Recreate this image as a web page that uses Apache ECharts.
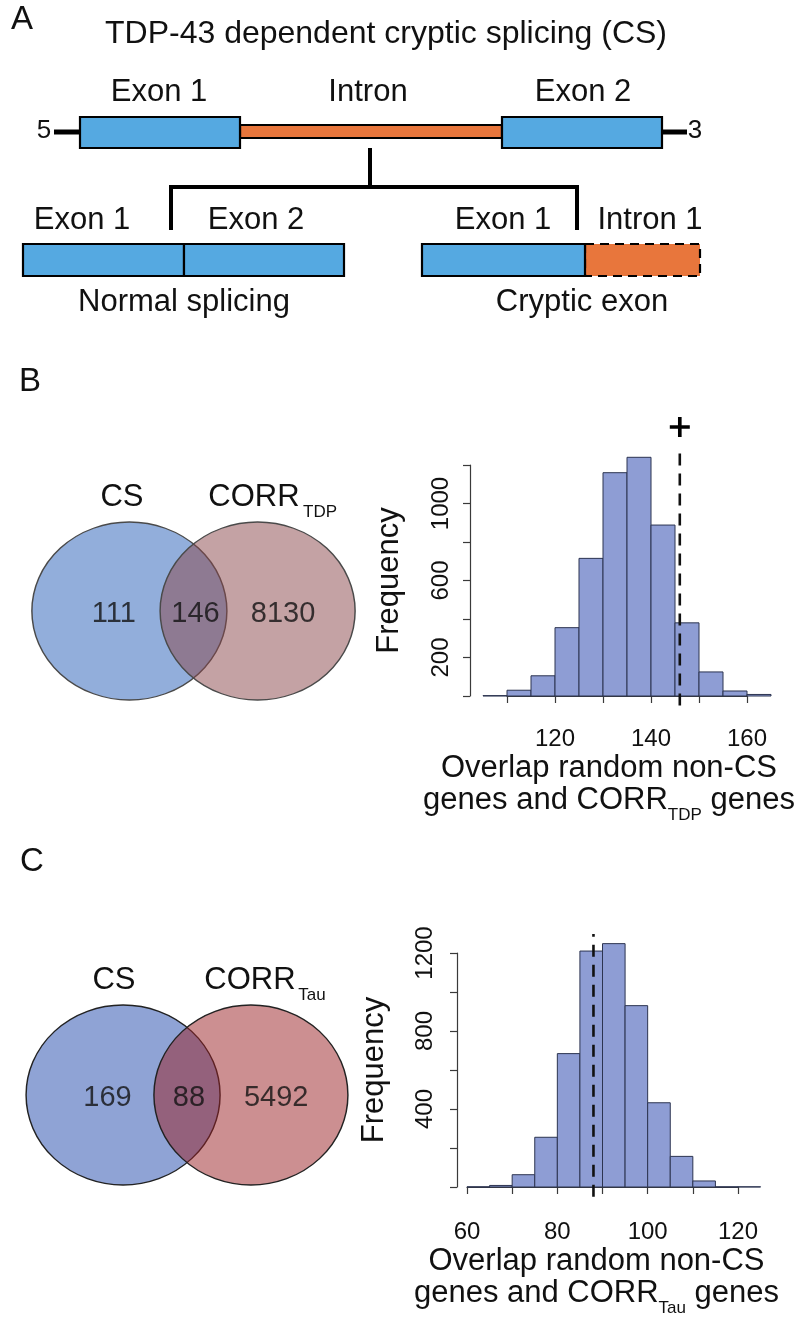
<!DOCTYPE html>
<html>
<head>
<meta charset="utf-8">
<script src="https://cdn.jsdelivr.net/npm/echarts@6/dist/echarts.min.js"></script>
<style>
html, body { margin: 0; padding: 0; background: #fff; }
#chart { width: 800px; height: 1325px; }
</style>
</head>
<body>
<div id="chart"></div>
<script>
// ---- data ----
// histogram B: lower bin edges (width 5) and counts
var binsB = [105, 110, 115, 120, 125, 130, 135, 140, 145, 150, 155, 160];
var countsB = [2, 30, 105, 355, 715, 1160, 1240, 888, 380, 125, 26, 8];
// histogram C
var binsC = [60, 65, 70, 75, 80, 85, 90, 95, 100, 105, 110, 115, 120];
var countsC = [1, 8, 63, 255, 684, 1210, 1248, 930, 432, 157, 31, 1, 1];
// observed overlaps (dashed lines)
var observedB = 146;
var observedC = 88;
// venn counts: CS only, both, CORR only
var vennB = [111, 146, 8130];
var vennC = [169, 88, 5492];
// tick labels R kept
var xLabelsB = [120, 140, 160];
var yLabelsB = [200, 600, 1000];
var xLabelsC = [60, 80, 100, 120];
var yLabelsC = [400, 800, 1200];

var binWidth = 5;
var FONT = '"Liberation Sans", Arial, sans-serif';
var blue = '#55a9e1', orange = '#e8763c';
var barFill = '#8e9dd4', barLine = '#2c3450', axisCol = '#3a3a3a';

var chart = echarts.init(document.getElementById('chart'));

function txt(s, x, y, size) {
  return { type: 'text', style: { text: s, x: x, y: y, fill: '#111', font: (size || 31) + 'px ' + FONT,
    align: 'center', verticalAlign: 'middle', textAlign: 'center', textVerticalAlign: 'middle' } };
}
function ln(x1, y1, x2, y2, w) {
  return { type: 'line', shape: { x1: x1, y1: y1, x2: x2, y2: y2 }, style: { stroke: '#000', lineWidth: w } };
}
function box(x, y, w, h, fill, dash) {
  return { type: 'rect', shape: { x: x, y: y, width: w, height: h },
    style: { fill: fill, stroke: '#000', lineWidth: 2.2, lineDash: dash || null } };
}

// panel A schematic + panel letters + venn set names
var graphics = [
  txt('A', 22, 20, 33),
  txt('TDP-43 dependent cryptic splicing (CS)', 386, 34, 32),
  txt('Exon 1', 159, 92), txt('Intron', 368, 92), txt('Exon 2', 583, 92),
  txt('5', 44, 131, 26), txt('3', 695, 131, 26),
  ln(54, 132, 80, 132, 5), ln(662, 132, 687, 132, 5),
  box(240, 125, 262, 13, orange),
  box(80, 117, 160, 31, blue), box(502, 117, 160, 31, blue),
  ln(370, 148, 370, 187, 4), ln(169, 187, 579, 187, 4),
  ln(171, 187, 171, 230, 4), ln(577, 187, 577, 230, 4),
  txt('Exon 1', 82, 220), txt('Exon 2', 256, 220),
  txt('Exon 1', 503, 220), txt('Intron 1', 650, 220),
  box(23, 244, 161, 32, blue), box(184, 244, 160, 32, blue),
  box(585, 244, 115, 32, orange, [9, 6]), box(422, 244, 163, 32, blue),
  txt('Normal splicing', 184, 302), txt('Cryptic exon', 582, 302),
  txt('B', 30, 382, 33), txt('C', 32, 862, 33),
  txt('CS', 122, 497), txt('CORR', 254, 497), txt('TDP', 320, 512, 17),
  txt('CS', 114, 980), txt('CORR', 250, 980), txt('Tau', 312, 995, 17)
];

function histSeries(idx, bins, counts) {
  return {
    type: 'custom', xAxisIndex: idx, yAxisIndex: idx, clip: false,
    data: bins.map(function (b, i) { return [b, b + binWidth, counts[i]]; }),
    encode: { x: [0, 1], y: 2 },
    renderItem: function (params, api) {
      var p0 = api.coord([api.value(0), api.value(2)]);
      var p1 = api.coord([api.value(1), 0]);
      return { type: 'rect', shape: { x: p0[0], y: p0[1], width: p1[0] - p0[0], height: p1[1] - p0[1] },
        style: { fill: barFill, stroke: barLine, lineWidth: 1 } };
    }
  };
}
function obsLine(idx, obs, counts) {
  var top = Math.max.apply(null, counts);
  return {
    type: 'line', xAxisIndex: idx, yAxisIndex: idx, clip: false, symbol: 'none', silent: true,
    data: [[obs, -0.04 * top], [obs, 1.04 * top]],
    lineStyle: { color: '#111', width: 2.6, type: [12, 8] }
  };
}

var nameRich = {
  m: { fontSize: 31, lineHeight: 32, align: 'center', verticalAlign: 'top', fontFamily: FONT, color: '#111' },
  sub: { fontSize: 17, lineHeight: 17, padding: [22, 0, 0, 0], align: 'center', verticalAlign: 'top', fontFamily: FONT, color: '#111' }
};
function histX(idx, min, max, offset, shown, sub, shiftLeft) {
  return {
    gridIndex: idx, type: 'value', min: min, max: max, interval: 10, offset: offset,
    axisLine: { show: true, lineStyle: { color: axisCol, width: 1.2 } },
    axisTick: { show: true, length: 7, lineStyle: { color: axisCol, width: 1.2 } },
    axisLabel: { fontSize: 24, color: '#111', fontFamily: FONT, margin: 22, hideOverlap: false,
      showMinLabel: true, showMaxLabel: true,
      formatter: function (v) { return shown.indexOf(v) >= 0 ? String(v) : ''; } },
    splitLine: { show: false },
    name: '{m|Overlap random non-CS}\n{m|genes and CORR}{sub|' + sub + '}{m| genes}',
    nameLocation: 'middle', nameGap: 48,
    nameTextStyle: { rich: nameRich, padding: [0, shiftLeft * 2, 0, 0] }
  };
}
function histY(idx, offset, shown, margin, gap) {
  return {
    gridIndex: idx, type: 'value', min: 0, max: 1200, interval: 200, offset: offset,
    axisLine: { show: true, lineStyle: { color: axisCol, width: 1.2 } },
    axisTick: { show: true, length: 7, lineStyle: { color: axisCol, width: 1.2 } },
    axisLabel: { fontSize: 24, color: '#111', fontFamily: FONT, rotate: 90, margin: margin, hideOverlap: false,
      showMinLabel: true, showMaxLabel: true,
      formatter: function (v) { return shown.indexOf(v) >= 0 ? String(v) : ''; } },
    splitLine: { show: false },
    name: 'Frequency', nameLocation: 'middle', nameGap: gap,
    nameTextStyle: { fontSize: 31, color: '#111', fontFamily: FONT }
  };
}
function hidden(idx, min, max) {
  return { gridIndex: idx, type: 'value', min: min, max: max, show: false, splitLine: { show: false } };
}

// venn layout (unit radius = 1)
var circleX = [-0.659, 0.659];
var labelX = [-0.82, 0.02, 0.92];
function vennSeries(idx, counts, fills, border, size) {
  return [{
    type: 'scatter', xAxisIndex: idx, yAxisIndex: idx, silent: true, symbol: 'circle', symbolSize: size,
    data: circleX.map(function (x, i) {
      return { value: [x, 0], itemStyle: { color: fills[i], borderColor: border, borderWidth: 1.4, opacity: 1 } };
    })
  }, {
    type: 'scatter', xAxisIndex: idx, yAxisIndex: idx, silent: true, symbolSize: 0,
    data: counts.map(function (c, i) { return [labelX[i], -0.03, c]; }),
    label: { show: true, position: 'inside', fontSize: 29, color: '#111', fontFamily: FONT,
      formatter: function (p) { return String(p.value[2]); } }
  }];
}

var option = {
  animation: false,
  backgroundColor: '#fff',
  textStyle: { fontFamily: FONT },
  grid: [
    { left: 507, top: 465, width: 240, height: 231, outerBoundsMode: 'none', containLabel: false },
    { left: 467, top: 953, width: 271, height: 234, outerBoundsMode: 'none', containLabel: false },
    { left: 32, top: 522, width: 323, height: 178, outerBoundsMode: 'none', containLabel: false },
    { left: 26, top: 1005, width: 322, height: 180, outerBoundsMode: 'none', containLabel: false }
  ],
  xAxis: [
    histX(0, 110, 160, 9, xLabelsB, 'TDP', 18),
    histX(1, 60, 120, 11, xLabelsC, 'Tau', 6),
    hidden(2, -1.66, 1.66), hidden(3, -1.66, 1.66)
  ],
  yAxis: [
    histY(0, 37, yLabelsB, 17, 65),
    histY(1, 10, yLabelsC, 20, 67),
    hidden(2, -1, 1), hidden(3, -1, 1)
  ],
  graphic: graphics,
  series: [
    histSeries(0, binsB, countsB),
    obsLine(0, observedB, countsB),
    {
      type: 'scatter', xAxisIndex: 0, yAxisIndex: 0, clip: false, silent: true,
      symbol: 'path://M9,0h4v9h9v4h-9v9h-4v-9h-9v-4h9z', symbolSize: 20,
      itemStyle: { color: '#000', opacity: 1 },
      data: [[observedB, 1.127 * Math.max.apply(null, countsB)]]
    },
    histSeries(1, binsC, countsC),
    obsLine(1, observedC, countsC)
  ].concat(
    vennSeries(2, vennB, ['rgba(37,93,183,0.5)', 'rgba(137,69,73,0.5)'], '#4a4a4a', [195, 178]),
    vennSeries(3, vennC, ['rgba(31,71,171,0.5)', 'rgba(153,31,35,0.5)'], '#222', [194, 180])
  )
};
chart.setOption(option);
</script>
</body>
</html>
